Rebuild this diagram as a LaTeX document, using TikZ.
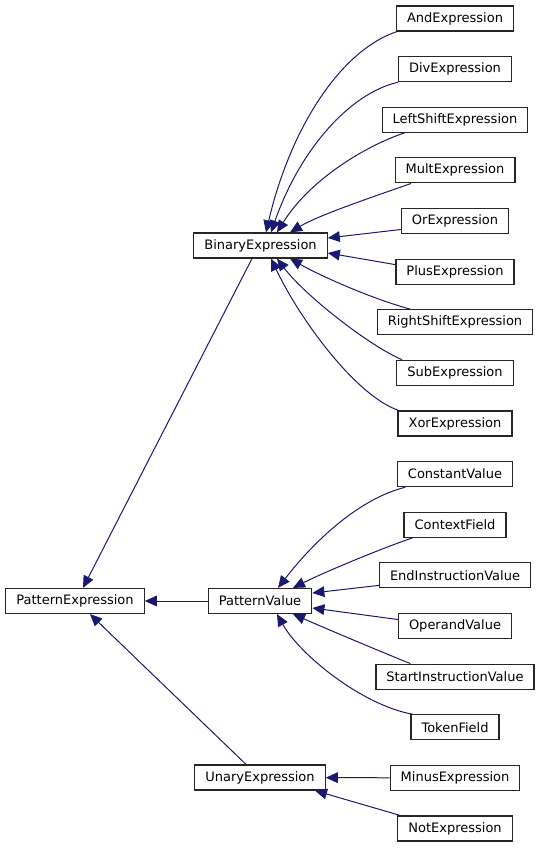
\documentclass[tikz,border=0pt]{standalone}
\usepackage{fontspec}
\setmainfont{DejaVu Sans}
\usepackage{tikz}
\usetikzlibrary{
        arrows.meta,
        positioning
    }
\definecolor{edgeblue}{HTML}{191970}

\begin{document}
\begin{tikzpicture}
[x=0.75pt, y=-0.75pt,
classbox/.style={rectangle, draw=black!85, line width=0.9pt, fill=white, minimum height=18.75pt, inner xsep=7.9pt, inner ysep=0pt, text centered, font=\fontsize{9.75}{11}\selectfont},
inherit/.style={draw=edgeblue, line width=0.75pt, -{Triangle[length=9pt, width=8pt]}},
node distance=37.97pt,]
\useasboundingbox (0,0) rectangle (540,848);

% leaf classes
\node (andexpr) [classbox] at (455,18.5) {AndExpression};
\node (divexpr) [classbox, below of =andexpr] {DivExpression};
\node (lshiftexpr) [classbox, below of =divexpr] {LeftShiftExpression};
\node (multexpr) [classbox, below of =lshiftexpr] {MultExpression};
\node (orexpr) [classbox, below of =multexpr] {OrExpression};
\node (plusexpr) [classbox, below of =orexpr] {PlusExpression};
\node (rshiftexpr) [classbox, below of =plusexpr] {RightShiftExpression};
\node (subexpr) [classbox, below of =rshiftexpr] {SubExpression};
\node (xorexpr) [classbox, below of =subexpr] {XorExpression};
\node (constval) [classbox, below of =xorexpr] {ConstantValue};
\node (ctxfield) [classbox, below of =constval] {ContextField};
\node (endval) [classbox, below of =ctxfield] {EndInstructionValue};
\node (operandval) [classbox, below of =endval] {OperandValue};
\node (startval) [classbox, below of =operandval] {StartInstructionValue};
\node (tokenfield) [classbox, below of =startval] {TokenField};
\node (minusexpr) [classbox, below of =tokenfield] {MinusExpression};
\node (notexpr) [classbox, below of =minusexpr] {NotExpression};

% middle and root
\node (binexpr) [classbox] at (260.5,245.5) {BinaryExpression};
\node (patval) [classbox] at (260,601) {PatternValue};
\node (unexpr) [classbox] at (260,777.5) {UnaryExpression};
\node (patexpr) [classbox] at (75,601) {PatternExpression};

% BinaryExpression children
\draw[inherit] ([shift={(1,0)}]andexpr.south west) .. controls +(-57,19) and +(24,-103) .. ([shift={(5.5,0)}]binexpr.north);
\draw[inherit] (divexpr.south west) .. controls +(-48,11) and +(29,-83) .. ([shift={(10.5,0)}]binexpr.north);
\draw[inherit] ([shift={(23,0)}]lshiftexpr.south west) .. controls +(-39,13) and +(33,-53) .. ([shift={(16.5,0)}]binexpr.north);
\draw[inherit] ([shift={(16.5,0)}]multexpr.south west) .. controls +(-31,11) and +(30,-18) .. ([shift={(29.5,0)}]binexpr.north);
\draw[inherit] ([shift={(0,8.5)}]orexpr.west) -- ([shift={(0,-7.5)}]binexpr.east);
\draw[inherit] ([shift={(0,-7)}]plusexpr.west) -- ([shift={(0,7.5)}]binexpr.east);
\draw[inherit] ([shift={(33.5,0)}]rshiftexpr.north west) .. controls +(-40,-11) and +(30,17) .. ([shift={(29.5,0)}]binexpr.south);
\draw[inherit] ([shift={(6,0)}]subexpr.north west) .. controls +(-33,-14) and +(28,37) .. ([shift={(16.5,0)}]binexpr.south);
\draw[inherit] ([shift={(1,0)}]xorexpr.north west) .. controls +(-43,-15) and +(29,61) .. ([shift={(10.5,0)}]binexpr.south);

% PatternValue children
\draw[inherit] ([shift={(8.5,0)}]constval.south west) .. controls +(-45,11) and +(37,-48) .. ([shift={(18,0)}]patval.north);
\draw[inherit] ([shift={(9,0)}]ctxfield.south west) .. controls +(-32,11) and +(32,-16) .. ([shift={(33,0)}]patval.north);
\draw[inherit] ([shift={(0,10)}]endval.west) -- ([shift={(0,-8)}]patval.east);
\draw[inherit] ([shift={(0,-6.5)}]operandval.west) -- ([shift={(0,7)}]patval.east);
\draw[inherit] ([shift={(35,0)}]startval.north west) .. controls +(-30,-12) and +(32,14) .. ([shift={(33,0)}]patval.south);
\draw[inherit] ([shift={(2,0)}]tokenfield.north west) .. controls +(-50,-9) and +(23,41) .. ([shift={(17,0)}]patval.south);

% UnaryExpression children
\draw[inherit] (minusexpr) -- (unexpr);
\draw[inherit] ([shift={(3,0)}]notexpr.north west) -- ([shift={(55,0)}]unexpr.south);

% into PatternExpression
\draw[inherit] ([shift={(-8.5,0)}]binexpr.south) -- ([shift={(8,0)}]patexpr.north);
\draw[inherit] (patval) -- (patexpr);
\draw[inherit] ([shift={(-14,0)}]unexpr.north) -- ([shift={(15,0)}]patexpr.south);

\end{tikzpicture}
\end{document}
